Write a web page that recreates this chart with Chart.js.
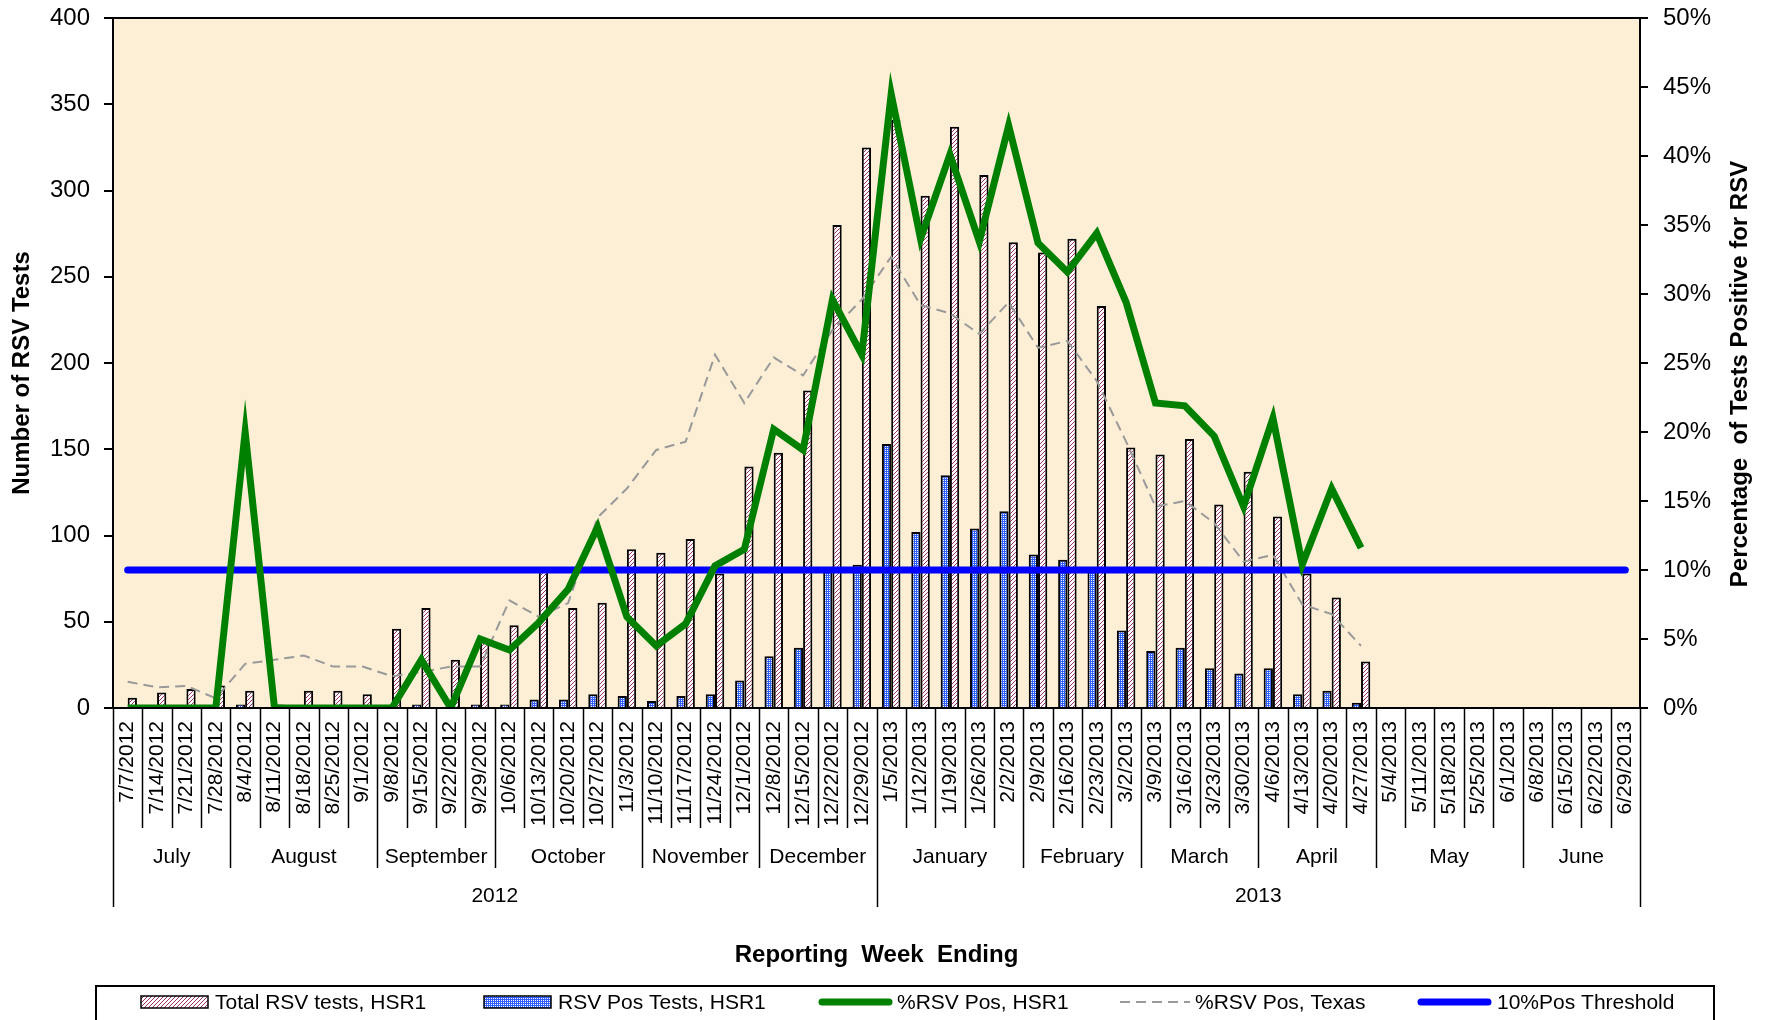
<!DOCTYPE html>
<html>
<head>
<meta charset="utf-8">
<script src="https://cdn.jsdelivr.net/npm/chart.js@4.4.0/dist/chart.umd.min.js"></script>
<style>
  html, body { margin: 0; padding: 0; background: #fff; }
  #wrap { width: 1765px; height: 1020px; position: relative; }
</style>
</head>
<body>
<div id="wrap"><canvas id="rsvChart"></canvas></div>
<script>
// week ending dates (category axis)
const weeks = ['7/7/2012','7/14/2012','7/21/2012','7/28/2012','8/4/2012','8/11/2012','8/18/2012','8/25/2012','9/1/2012',
  '9/8/2012','9/15/2012','9/22/2012','9/29/2012','10/6/2012','10/13/2012','10/20/2012','10/27/2012','11/3/2012',
  '11/10/2012','11/17/2012','11/24/2012','12/1/2012','12/8/2012','12/15/2012','12/22/2012','12/29/2012',
  '1/5/2013','1/12/2013','1/19/2013','1/26/2013','2/2/2013','2/9/2013','2/16/2013','2/23/2013','3/2/2013',
  '3/9/2013','3/16/2013','3/23/2013','3/30/2013','4/6/2013','4/13/2013','4/20/2013','4/27/2013',
  '5/4/2013','5/11/2013','5/18/2013','5/25/2013','6/1/2013','6/8/2013','6/15/2013','6/22/2013','6/29/2013'];

const months = ['July','August','September','October','November','December','January','February','March','April','May','June'];
const monthSpans = [4, 5, 4, 5, 4, 4, 5, 4, 4, 4, 5, 4];
const years = ['2012', '2013'];
const yearSpans = [26, 26];

const totalTests = [6, 9, 11, 13, 10, 2, 10, 10, 8, 46, 58, 28, 40, 48, 81, 58, 61, 92, 90, 98, 78, 140, 148, 184,
  280, 325, 341, 297, 337, 309, 270, 264, 272, 233, 151, 147, 156, 118, 137, 111, 78, 64, 27,
  null, null, null, null, null, null, null, null, null];
const posTests = [0, 0, 0, 0, 2, 0, 0, 0, 0, 0, 2, 0, 2, 2, 5, 5, 8, 7, 4, 7, 8, 16, 30, 35,
  81, 83, 153, 102, 135, 104, 114, 89, 86, 80, 45, 33, 35, 23, 20, 23, 8, 10, 3,
  null, null, null, null, null, null, null, null, null];
const pctHSR1 = [0, 0, 0, 0, 20, 0, 0, 0, 0, 0, 3.5, 0, 5, 4.2, 6.2, 8.6, 13.1, 6.6, 4.5, 6.1, 10.3, 11.5, 20.2, 18.7,
  29.6, 25.6, 44.5, 34, 40.1, 33.8, 42.2, 33.7, 31.6, 34.4, 29.4, 22.1, 21.9, 19.7, 14.6, 21, 10.4, 15.9, 11.6,
  null, null, null, null, null, null, null, null, null];
const pctTexas = [1.9, 1.5, 1.6, 0.7, 3.2, 3.5, 3.8, 3.0, 3.0, 2.3, 2.6, 3.0, 3.0, 7.8, 6.6, 7.6, 13.8, 15.9, 18.7, 19.3,
  25.6, 22.1, 25.4, 24.1, 27.4, 29.6, 32.7, 29.2, 28.6, 27.1, 29.4, 26.1, 26.6, 23.7, 19.3, 14.6, 15.0, 13.4, 10.6,
  11.1, 7.5, 6.8, 4.5, null, null, null, null, null, null, null, null, null];
const threshold = weeks.map(() => 10);

const FONT = "'Liberation Sans', Arial, sans-serif";

// fill patterns for the bars
function pinkHatch() {
  const c = document.createElement('canvas');
  c.width = 4; c.height = 4;
  const g = c.getContext('2d');
  g.fillStyle = '#fff';
  g.fillRect(0, 0, 4, 4);
  g.fillStyle = '#9E2F62';
  g.fillRect(0, 3, 1, 1);
  g.fillRect(1, 2, 1, 1);
  g.fillRect(2, 1, 1, 1);
  g.fillRect(3, 0, 1, 1);
  return g.createPattern(c, 'repeat');
}
function blueChecker() {
  const c = document.createElement('canvas');
  c.width = 2; c.height = 2;
  const g = c.getContext('2d');
  g.fillStyle = '#2F60FF';
  g.fillRect(0, 0, 2, 2);
  g.fillStyle = '#fff';
  g.fillRect(1, 0, 1, 1);
  return g.createPattern(c, 'repeat');
}
const pinkFill = pinkHatch();
const blueFill = blueChecker();

function spanEdges(spans) {
  const edges = [0];
  let acc = 0;
  spans.forEach(n => { acc += n; edges.push(acc); });
  return edges;
}

const frame = {
  id: 'frame',
  beforeDraw(chart) {
    const { ctx, chartArea: a } = chart;
    ctx.save();
    ctx.fillStyle = '#FCEFD6';
    ctx.fillRect(a.left, a.top, a.right - a.left, a.bottom - a.top);
    ctx.restore();
  },
  afterDraw(chart) {
    const { ctx, chartArea: a } = chart;
    const x = chart.scales.x;
    const w = (x.right - x.left) / weeks.length;
    ctx.save();
    ctx.strokeStyle = '#000';
    ctx.lineWidth = 2;
    ctx.strokeRect(a.left, a.top, a.right - a.left, a.bottom - a.top);

    // multi level category axis
    const mEdges = spanEdges(monthSpans);
    const yEdges = spanEdges(yearSpans);
    ctx.lineWidth = 1.5;
    for (let i = 0; i <= weeks.length; i++) {
      const px = Math.round(x.left + i * w) + 0.5;
      let bottom = 828;
      if (mEdges.includes(i)) bottom = 868;
      if (yEdges.includes(i)) bottom = 907;
      ctx.beginPath();
      ctx.moveTo(px, a.bottom);
      ctx.lineTo(px, bottom);
      ctx.stroke();
    }
    ctx.fillStyle = '#000';
    ctx.textAlign = 'center';
    ctx.textBaseline = 'middle';
    ctx.font = '21px ' + FONT;
    months.forEach((m, k) => {
      const cx = x.left + (mEdges[k] + mEdges[k + 1]) / 2 * w;
      ctx.fillText(m, cx, 857);
    });
    years.forEach((y, k) => {
      const cx = x.left + (yEdges[k] + yEdges[k + 1]) / 2 * w;
      ctx.fillText(y, cx, 896);
    });

    // axis titles
    ctx.font = 'bold 24px ' + FONT;
    ctx.fillText('Reporting  Week  Ending', (a.left + a.right) / 2, 955);
    ctx.save();
    ctx.translate(22, 373);
    ctx.rotate(-Math.PI / 2);
    ctx.fillText('Number of RSV Tests', 0, 0);
    ctx.restore();
    ctx.save();
    ctx.translate(1740, 374);
    ctx.rotate(-Math.PI / 2);
    ctx.fillText('Percentage  of Tests Positive for RSV', 0, 0);
    ctx.restore();

    // legend
    ctx.lineWidth = 2;
    ctx.strokeRect(96, 986, 1618, 60);
    const ly = 1002;
    ctx.font = '21px ' + FONT;
    ctx.textAlign = 'left';
    ctx.lineWidth = 1.5;
    ctx.fillStyle = pinkFill;
    ctx.fillRect(141, ly - 6, 67, 12);
    ctx.strokeRect(141, ly - 6, 67, 12);
    ctx.fillStyle = blueFill;
    ctx.fillRect(484, ly - 6, 67, 12);
    ctx.strokeRect(484, ly - 6, 67, 12);
    ctx.lineCap = 'round';
    ctx.lineWidth = 7;
    ctx.strokeStyle = '#008000';
    ctx.beginPath(); ctx.moveTo(822, ly); ctx.lineTo(889, ly); ctx.stroke();
    ctx.strokeStyle = '#0000FF';
    ctx.beginPath(); ctx.moveTo(1421, ly); ctx.lineTo(1488, ly); ctx.stroke();
    ctx.lineCap = 'butt';
    ctx.lineWidth = 2;
    ctx.strokeStyle = '#999';
    ctx.setLineDash([10, 6]);
    ctx.beginPath(); ctx.moveTo(1120, ly); ctx.lineTo(1190, ly); ctx.stroke();
    ctx.setLineDash([]);
    ctx.fillStyle = '#000';
    ctx.fillText('Total RSV tests, HSR1', 215, ly + 1);
    ctx.fillText('RSV Pos Tests, HSR1', 558, ly + 1);
    ctx.fillText('%RSV Pos, HSR1', 897, ly + 1);
    ctx.fillText('%RSV Pos, Texas', 1195, ly + 1);
    ctx.fillText('10%Pos Threshold', 1497, ly + 1);
    ctx.restore();
  }
};

const ctx = document.getElementById('rsvChart').getContext('2d');
const rsvChart = new Chart(ctx, {
  type: 'bar',
  data: {
    labels: weeks,
    datasets: [
      {
        type: 'line', label: '%RSV Pos, HSR1', data: pctHSR1, yAxisID: 'yPct',
        borderColor: '#008000', borderWidth: 7, pointRadius: 0, tension: 0,
        borderJoinStyle: 'miter', order: 1
      },
      {
        type: 'line', label: '10%Pos Threshold', data: threshold, yAxisID: 'yPct',
        borderColor: '#0000FF', borderWidth: 7, pointRadius: 0, borderCapStyle: 'round', order: 2
      },
      {
        type: 'line', label: '%RSV Pos, Texas', data: pctTexas, yAxisID: 'yPct',
        borderColor: '#999999', borderWidth: 2, borderDash: [10, 6], pointRadius: 0, order: 3
      },
      {
        label: 'Total RSV tests, HSR1', data: totalTests, yAxisID: 'yCount',
        backgroundColor: pinkFill, borderColor: '#000', borderWidth: 2, borderSkipped: 'start',
        categoryPercentage: 0.63, barPercentage: 1.0, order: 5
      },
      {
        label: 'RSV Pos Tests, HSR1', data: posTests, yAxisID: 'yCount',
        backgroundColor: blueFill, borderColor: '#000', borderWidth: 2, borderSkipped: 'start',
        categoryPercentage: 0.63, barPercentage: 1.0, order: 4
      }
    ]
  },
  options: {
    responsive: true,
    maintainAspectRatio: false,
    animation: false,
    layout: { padding: { top: 18, left: 0, right: 0, bottom: 0 } },
    plugins: {
      legend: { display: false },
      tooltip: { enabled: false }
    },
    scales: {
      x: {
        grid: { display: false, drawTicks: false },
        border: { display: false },
        ticks: {
          autoSkip: false, minRotation: 90, maxRotation: 90, padding: 13,
          color: '#000', font: { family: FONT, size: 21 }
        },
        afterFit(scale) { scale.height = 312; }
      },
      yCount: {
        position: 'left', min: 0, max: 400,
        grid: { drawOnChartArea: false, drawTicks: true, tickLength: 9, color: '#000', lineWidth: 2 },
        border: { display: true, color: '#000', width: 2 },
        ticks: { stepSize: 50, padding: 14, color: '#000', font: { family: FONT, size: 24 } },
        afterFit(scale) { scale.width = 113; scale.paddingTop = 0; scale.paddingBottom = 0; }
      },
      yPct: {
        position: 'right', min: 0, max: 50,
        grid: { drawOnChartArea: false, drawTicks: true, tickLength: 8, color: '#000', lineWidth: 2 },
        border: { display: true, color: '#000', width: 2 },
        ticks: {
          stepSize: 5, padding: 15, color: '#000', font: { family: FONT, size: 24 },
          callback: v => v + '%'
        },
        afterFit(scale) { scale.width = 125; scale.paddingTop = 0; scale.paddingBottom = 0; }
      }
    }
  },
  plugins: [frame]
});
</script>
</body>
</html>
